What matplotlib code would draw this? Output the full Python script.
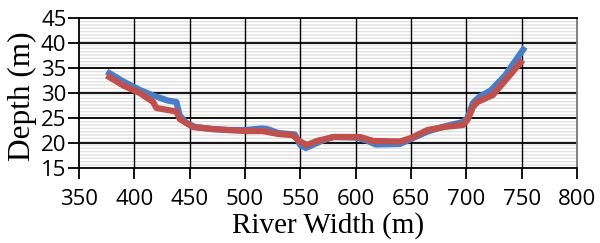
import matplotlib
matplotlib.use("Agg")
import matplotlib.pyplot as plt
from matplotlib.patches import Rectangle

blue_x = [375, 390, 405, 417, 430, 438, 441, 447, 455, 470, 485, 500, 515, 520, 530, 545, 550, 555, 560, 570, 580, 600, 610, 618, 640, 650, 665, 680, 697, 701, 706, 712, 722, 735, 753]
blue_y = [34.3, 32.3, 30.6, 29.5, 28.5, 28.2, 25.5, 24.0, 23.2, 22.8, 22.6, 22.6, 22.9, 22.8, 22.0, 21.7, 19.6, 19.0, 19.5, 20.5, 21.2, 21.1, 20.5, 19.7, 19.8, 20.8, 22.3, 23.3, 24.2, 25.0, 28.0, 29.3, 30.5, 33.5, 39.2]

red_x = [375, 390, 405, 417, 420, 438, 441, 453, 470, 484, 500, 516, 530, 543, 549, 556, 565, 580, 604, 616, 640, 650, 665, 680, 697, 701, 706, 710, 724, 751]
red_y = [33.5, 31.5, 30.0, 28.2, 27.0, 26.3, 24.8, 23.2, 22.8, 22.6, 22.4, 22.4, 21.8, 21.6, 20.4, 19.6, 20.4, 21.2, 21.2, 20.4, 20.3, 21.0, 22.6, 23.2, 23.6, 24.6, 27.2, 28.2, 29.6, 36.6]

x_ticks = [350, 400, 450, 500, 550, 600, 650, 700, 750, 800]
y_ticks = [15, 20, 25, 30, 35, 40, 45]

plt.rcParams['hatch.linewidth'] = 0.9

fig = plt.figure(figsize=(6.0, 2.43), dpi=100)
ax = fig.add_axes([79/600, 1-168/243, (577-79)/600, 150/243])
ax.set_xlim(350, 800)
ax.set_ylim(15, 45)

ax.add_patch(Rectangle((0, 0), 1, 1, transform=ax.transAxes, facecolor='white',
                       edgecolor='#dedede', linewidth=0, hatch='-----', zorder=0))

for yv in y_ticks[1:-1]:
    ax.axhline(yv, color='black', lw=1.3, zorder=1)
for xv in x_ticks[1:-1]:
    ax.axvline(xv, color='black', lw=1.0, zorder=1)

ax.plot(blue_x, blue_y, color='#4a7ec4', lw=4.5, solid_capstyle='butt', zorder=3)
ax.plot(red_x, red_y, color='#c0504d', lw=4.5, solid_capstyle='butt', zorder=4)

ax.set_xticks(x_ticks)
ax.set_yticks(y_ticks)
tick_font = dict(family=['Open Sans', 'DejaVu Sans'], size=16)
ax.set_xticklabels([str(v) for v in x_ticks], **tick_font)
ax.set_yticklabels([str(v) for v in y_ticks], **tick_font)
ax.tick_params(axis='both', direction='out', length=8, width=1.3, colors='black')
ax.tick_params(axis='y', pad=1)
ax.tick_params(axis='x', pad=7)

for s in ['left', 'bottom', 'top']:
    ax.spines[s].set_color('black')
    ax.spines[s].set_linewidth(1.3)
ax.spines['right'].set_color('#777777')
ax.spines['right'].set_linewidth(1.3)

ax.set_xlabel('River Width (m)', family=['Liberation Serif', 'DejaVu Serif'], size=21)
ax.xaxis.set_label_coords(0.5, (168 - 212) / 150)
ax.set_ylabel('Depth (m)', family=['Liberation Serif', 'DejaVu Serif'], size=22.5)
ax.yaxis.set_label_coords((37 - 79) / 498, 0.48)

fig.savefig('out.png', dpi=100)
